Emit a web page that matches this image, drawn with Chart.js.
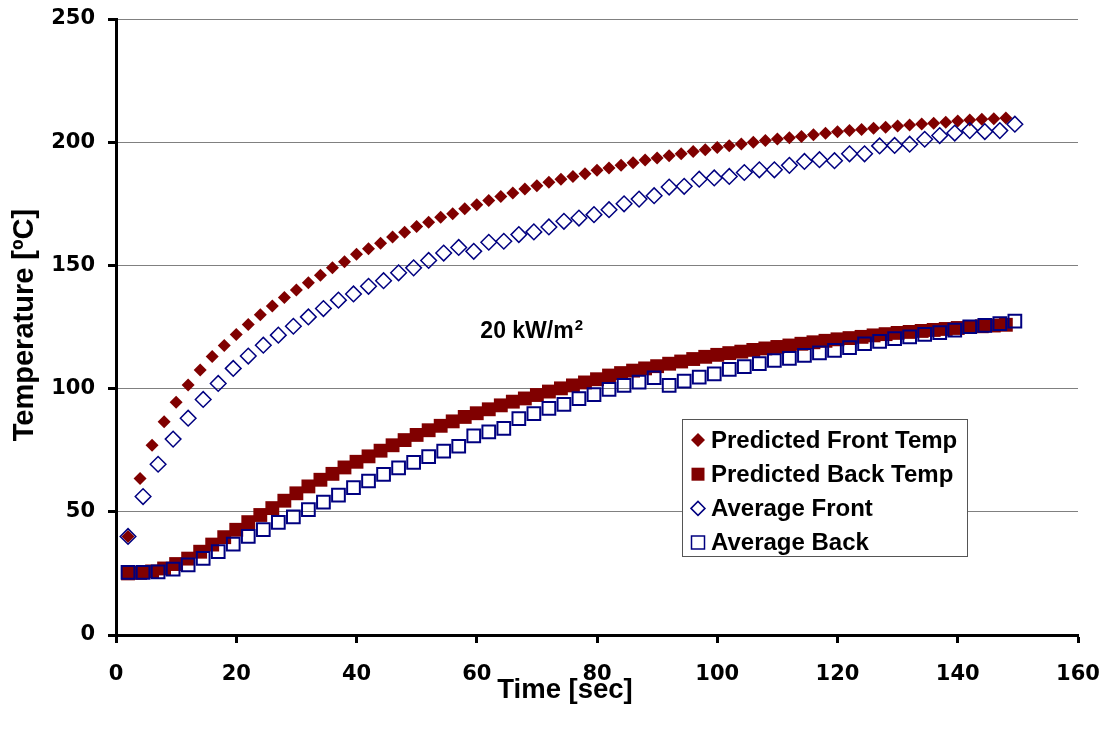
<!DOCTYPE html>
<html>
<head>
<meta charset="utf-8">
<title>Temperature vs time, 20 kW/m2</title>
<script src="https://cdn.jsdelivr.net/npm/chart.js"></script>
<style>
  body { margin: 0; background: #fff; }
  #wrap { width: 1104px; height: 731px; }
</style>
</head>
<body>
<div id="wrap"><canvas id="myChart" width="1104" height="731"></canvas></div>
<script>
// time stamps (s) of the model output and of the averaged thermocouple readings
var predTime = [2, 4, 6, 8, 10, 12, 14, 16, 18, 20, 22, 24, 26, 28, 30, 32, 34, 36, 38, 40,
  42, 44, 46, 48, 50, 52, 54, 56, 58, 60, 62, 64, 66, 68, 70, 72, 74, 76, 78, 80,
  82, 84, 86, 88, 90, 92, 94, 96, 98, 100, 102, 104, 106, 108, 110, 112, 114, 116, 118, 120,
  122, 124, 126, 128, 130, 132, 134, 136, 138, 140, 142, 144, 146, 148];
var avgTime = [2, 4.5, 7, 9.5, 12, 14.5, 17, 19.5, 22, 24.5, 27, 29.5, 32, 34.5, 37, 39.5, 42, 44.5, 47, 49.5,
  52, 54.5, 57, 59.5, 62, 64.5, 67, 69.5, 72, 74.5, 77, 79.5, 82, 84.5, 87, 89.5, 92, 94.5, 97, 99.5,
  102, 104.5, 107, 109.5, 112, 114.5, 117, 119.5, 122, 124.5, 127, 129.5, 132, 134.5, 137, 139.5, 142, 144.5, 147, 149.5];

// temperatures in degC
var predFront = [40, 63.5, 77, 86.5, 94.5, 101.5, 107.5, 113, 117.5, 122, 126, 130, 133.5, 137, 140, 143, 146, 149, 151.5, 154.5,
  156.8, 159, 161.5, 163.5, 165.8, 167.5, 169.5, 171, 173, 174.6, 176.3, 178, 179.4, 181, 182.3, 183.7, 185, 186.1, 187.2, 188.6,
  189.5, 190.6, 191.7, 192.8, 193.6, 194.5, 195.3, 196.2, 196.9, 197.8, 198.6, 199.3, 200, 200.7, 201.3, 201.8, 202.3, 203, 203.6, 204.2,
  204.7, 205.2, 205.7, 206.1, 206.6, 207, 207.4, 207.7, 208.1, 208.6, 209, 209.3, 209.5, 209.8];
var predBack = [25, 25.2, 25.8, 27, 28.8, 31, 33.8, 36.7, 39.7, 42.7, 45.8, 48.7, 51.5, 54.5, 57.5, 60.3, 63, 65.4, 68, 70.3,
  72.5, 74.8, 77, 79.1, 81.2, 83.1, 84.9, 86.7, 88.5, 90, 91.6, 93.2, 94.7, 96, 97.4, 98.8, 100.1, 101.3, 102.5, 103.8,
  105.3, 106.3, 107.3, 108.2, 109.1, 110.1, 111, 112, 112.9, 113.7, 114.4, 115, 115.7, 116.3, 116.9, 117.5, 118.2, 118.8, 119.4, 120,
  120.5, 121, 121.6, 122.1, 122.6, 123, 123.4, 123.8, 124.2, 124.6, 125, 125.3, 125.6, 125.9];
var avgFront = [40, 56.2, 69.3, 79.5, 88, 95.6, 102.1, 108.2, 113.2, 117.6, 121.7, 125.3, 129.1, 132.5, 135.9, 138.4, 141.5, 143.8, 147, 149,
  152, 155, 157.3, 155.7, 159.4, 159.8, 162.5, 163.6, 165.6, 167.9, 169.2, 170.6, 172.6, 175, 176.9, 178.3, 181.8, 182.1, 185, 185.5,
  186.1, 187.7, 188.8, 188.8, 190.6, 192.2, 192.9, 192.5, 195.3, 195.3, 198.5, 198.7, 199.2, 201.2, 202.7, 203.7, 204.7, 204.3, 204.7, 207.3];
var avgBack = [25.4, 25.4, 25.6, 26.7, 28.5, 31.1, 33.8, 36.9, 40, 42.8, 45.7, 47.9, 50.9, 53.9, 56.8, 59.8, 62.5, 65.2, 67.8, 70.1,
  72.4, 74.6, 76.6, 80.8, 82.4, 83.9, 87.8, 89.8, 92, 93.6, 95.9, 97.6, 99.7, 101.3, 102.6, 104.4, 101.3, 103, 104.7, 106,
  107.8, 108.9, 110.1, 111.4, 112.3, 113.5, 114.5, 115.5, 116.6, 118.2, 119.2, 120.3, 121, 122, 122.7, 123.7, 125.1, 125.7, 126.4, 127.4];

var xTicks = [0, 20, 40, 60, 80, 100, 120, 140, 160];
var yTicks = [0, 50, 100, 150, 200, 250];
var seriesNames = ['Predicted Front Temp', 'Predicted Back Temp', 'Average Front', 'Average Back'];
var heatFlux = '20 kW/m';

var RED = '#800000';
var NAVY = '#000080';
var FONT = '"Liberation Sans", Arial, sans-serif';
var TICKFONT = '"DejaVu Sans", sans-serif';

function toPoints(xs, ys) {
  var pts = [];
  for (var i = 0; i < xs.length; i++) {
    pts.push({ x: xs[i], y: ys[i] });
  }
  return pts;
}

// simple marker painter for the in-plot legend
function marker(ctx, kind, x, y) {
  ctx.save();
  ctx.beginPath();
  if (kind == 0 || kind == 2) {
    var r = 7;
    ctx.moveTo(x - r, y); ctx.lineTo(x, y - r); ctx.lineTo(x + r, y); ctx.lineTo(x, y + r);
    ctx.closePath();
  } else {
    ctx.rect(x - 6.5, y - 6.5, 13, 13);
  }
  if (kind < 2) {
    ctx.fillStyle = RED;
    ctx.fill();
  } else {
    ctx.strokeStyle = NAVY;
    ctx.lineWidth = 1.5;
    ctx.stroke();
  }
  ctx.restore();
}

var extras = {
  id: 'extras',
  afterDraw: function(chart) {
    var ctx = chart.ctx;
    var ca = chart.chartArea;
    var xs = chart.scales.x, ys = chart.scales.y;
    ctx.save();

    // heat flux label, with a raised "2"
    var hx = xs.getPixelForValue(60.6), hy = ys.getPixelForValue(120.5);
    ctx.fillStyle = '#000';
    ctx.font = 'bold 23px ' + FONT;
    ctx.textBaseline = 'alphabetic';
    ctx.textAlign = 'left';
    ctx.fillText(heatFlux, hx, hy);
    var w = ctx.measureText(heatFlux).width;
    ctx.font = 'bold 15px ' + FONT;
    ctx.fillText('2', hx + w + 1, hy - 8);

    // axis titles
    ctx.textAlign = 'center';
    ctx.textBaseline = 'middle';
    ctx.font = 'bold 27.5px ' + FONT;
    ctx.fillText('Time [sec]', 565, 690);
    ctx.save();
    ctx.font = 'bold 29px ' + FONT;
    ctx.translate(25, 325);
    ctx.rotate(-Math.PI / 2);
    ctx.fillText('Temperature [\u00BAC]', 0, 0);
    ctx.restore();

    // legend box inside the plot
    var bx = ca.right - 396, by = ca.bottom - 216, bw = 285, bh = 137;
    ctx.fillStyle = '#fff';
    ctx.fillRect(bx, by, bw, bh);
    ctx.strokeStyle = '#555';
    ctx.lineWidth = 1;
    ctx.strokeRect(bx + 0.5, by + 0.5, bw, bh);
    ctx.font = 'bold 24px ' + FONT;
    ctx.textAlign = 'left';
    ctx.textBaseline = 'middle';
    for (var i = 0; i < seriesNames.length; i++) {
      var ly = by + 21 + i * 34.2;
      marker(ctx, i, bx + 16, ly);
      ctx.fillStyle = '#000';
      ctx.fillText(seriesNames[i], bx + 29, ly + 1);
    }
    ctx.restore();
  }
};

var ctx = document.getElementById('myChart').getContext('2d');
var myChart = new Chart(ctx, {
  type: 'scatter',
  data: {
    datasets: [{
      label: seriesNames[0],
      data: toPoints(predTime, predFront),
      pointStyle: 'rectRot',
      pointRadius: 6.5,
      backgroundColor: RED,
      borderColor: RED,
      borderWidth: 0,
      order: 3
    }, {
      label: seriesNames[1],
      data: toPoints(predTime, predBack),
      pointStyle: 'rect',
      pointRadius: 9.8,
      backgroundColor: RED,
      borderColor: RED,
      borderWidth: 0,
      order: 2
    }, {
      label: seriesNames[2],
      data: toPoints(avgTime, avgFront),
      pointStyle: 'rectRot',
      pointRadius: 7.8,
      backgroundColor: 'rgba(0,0,0,0)',
      borderColor: NAVY,
      borderWidth: 1.5,
      order: 1
    }, {
      label: seriesNames[3],
      data: toPoints(avgTime, avgBack),
      pointStyle: 'rect',
      pointRadius: 9,
      backgroundColor: 'rgba(0,0,0,0)',
      borderColor: NAVY,
      borderWidth: 2,
      order: 0
    }]
  },
  options: {
    responsive: false,
    animation: false,
    events: [],
    layout: { padding: { top: 19, right: 26, left: 0, bottom: 0 } },
    plugins: {
      legend: { display: false },
      tooltip: { enabled: false }
    },
    scales: {
      x: {
        type: 'linear',
        min: 0,
        max: 160,
        afterFit: function(scale) {
          scale.height = 96;
          scale.paddingLeft = 0;
          scale.paddingRight = 0;
        },
        afterBuildTicks: function(scale) {
          scale.ticks = xTicks.map(function(v) { return { value: v }; });
        },
        border: { color: '#000', width: 3 },
        grid: { drawOnChartArea: false, tickLength: 8, tickColor: '#000', tickWidth: 3 },
        ticks: { color: '#000', padding: 19, maxRotation: 0, font: { family: TICKFONT, size: 21, weight: 'bold' } }
      },
      y: {
        type: 'linear',
        min: 0,
        max: 250,
        afterFit: function(scale) {
          scale.width = 116;
          scale.paddingTop = 0;
          scale.paddingBottom = 0;
        },
        afterBuildTicks: function(scale) {
          scale.ticks = yTicks.map(function(v) { return { value: v }; });
        },
        border: { color: '#000', width: 3 },
        grid: { color: '#808080', lineWidth: 1, tickLength: 8, tickColor: '#000', tickWidth: 3 },
        ticks: { color: '#000', padding: 13, font: { family: TICKFONT, size: 21, weight: 'bold' } }
      }
    }
  },
  plugins: [extras]
});
</script>
</body>
</html>
